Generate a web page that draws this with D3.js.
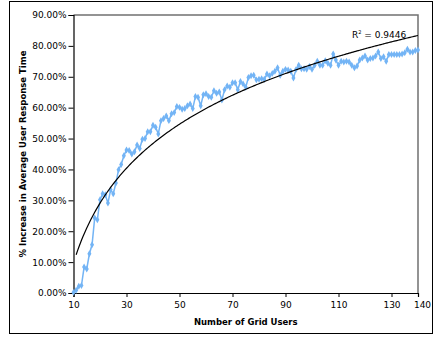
<!DOCTYPE html>
<html>
<head>
<meta charset="utf-8">
<script src="https://cdn.jsdelivr.net/npm/d3@7"></script>
<style>
  body { margin: 0; background: #fff; }
  svg text { font-family: "DejaVu Sans", Verdana, sans-serif; }
</style>
</head>
<body>
<div id="chart"></div>
<script>
// x values: grid users 10..140
let users = d3.range(10, 141);
// % increase in average user response time
let increase = [
    0.2, 0.9, 2.2, 2.4, 8.4, 7.8, 12.7, 15.6, 24.3, 23.7,
    30.2, 32.1, 31.8, 29.1, 33.4, 32.1, 35.6, 39.9, 41.6, 44.4,
    46.3, 46.1, 45.0, 45.7, 47.9, 46.8, 49.8, 50.0, 52.2, 52.2,
    54.3, 53.7, 51.5, 55.8, 56.5, 57.3, 55.8, 58.0, 58.4, 60.4,
    60.1, 59.5, 59.7, 60.6, 61.2, 59.7, 63.6, 63.4, 60.6, 64.2,
    64.5, 63.6, 63.4, 65.5, 64.7, 65.1, 62.5, 65.8, 67.0, 66.6,
    68.1, 68.1, 65.8, 68.5, 67.7, 66.6, 69.8, 70.3, 70.5, 69.0,
    69.2, 69.4, 69.2, 70.9, 70.3, 71.1, 71.8, 72.9, 70.5, 71.8,
    72.4, 72.2, 71.8, 69.6, 72.4, 73.7, 72.6, 72.6, 72.4, 73.3,
    72.4, 73.7, 75.0, 73.7, 73.7, 75.2, 74.4, 73.7, 77.4, 75.4,
    73.7, 75.0, 74.8, 75.0, 74.8, 73.7, 72.9, 73.5, 75.4, 76.1,
    76.7, 75.4, 75.9, 76.1, 76.7, 78.0, 75.9, 76.5, 75.0, 77.2,
    77.2, 77.2, 77.2, 77.2, 77.4, 77.8, 78.9, 78.0, 78.0, 78.5,
    78.7
];
// logarithmic trendline y = a*ln(x) + b
let trendA = 27.9;
let trendB = -54.5;
let trendRange = [11, 140];
let rSquared = "0.9446";

let xTicks = [10, 30, 50, 70, 90, 110, 130, 140];
let yTicks = [0, 10, 20, 30, 40, 50, 60, 70, 80, 90];

let width = 434, height = 337;
let margin = { "top": 15, "bottom": 44, "right": 16, "left": 73.5 };

let svg = d3.select('#chart').append('svg').attr('width', width).attr('height', height);

// outer frame
svg.append('rect')
    .attr('x', 9.5).attr('y', 1.5)
    .attr('width', 423).attr('height', 332)
    .attr('fill', 'none')
    .attr('stroke', '#000')
    .attr('stroke-width', 1);

let xScale = d3.scaleLinear()
    .domain([10, 140])
    .range([margin.left, width - margin.right]);
let yScale = d3.scaleLinear()
    .domain([0, 90])
    .range([height - margin.bottom, margin.top]);

// plot area top / right border
svg.append('path')
    .attr('d', 'M' + xScale(10) + ',' + yScale(90) + 'H' + xScale(140) + 'V' + yScale(0))
    .attr('fill', 'none')
    .attr('stroke', '#707070')
    .attr('stroke-width', 1.5);

let xAxis = d3.axisBottom(xScale)
    .tickValues(xTicks)
    .tickSize(4)
    .tickPadding(5)
    .tickFormat(d3.format('d'));
let yAxis = d3.axisLeft(yScale)
    .tickValues(yTicks)
    .tickSize(5)
    .tickPadding(2)
    .tickFormat(function (d) { return d.toFixed(2) + '%'; });

let gx = svg.append('g')
    .attr('transform', 'translate(0,' + yScale(0) + ')')
    .call(xAxis);
gx.selectAll('text').attr('font-size', 9).attr('fill', '#000').attr('font-family', null);
gx.selectAll('.tick').filter(function (d) { return d === 140; }).select('line').remove();
gx.selectAll('.tick').filter(function (d) { return d === 140; }).select('text').attr('dx', 4);

let gy = svg.append('g')
    .attr('transform', 'translate(' + margin.left + ',0)')
    .call(yAxis);
gy.selectAll('text').attr('font-size', 9).attr('fill', '#000').attr('font-family', null);

svg.selectAll('.domain').attr('stroke', '#000').attr('stroke-width', 1.2);

// series
let points = users.map(function (u, i) { return [u, increase[i]]; });
let line = d3.line()
    .x(function (d) { return xScale(d[0]); })
    .y(function (d) { return yScale(d[1]); });

svg.append('path')
    .attr('d', line(points))
    .attr('fill', 'none')
    .attr('stroke', '#73b4f5')
    .attr('stroke-width', 1.5);

svg.append('g')
    .selectAll('path')
    .data(points)
    .enter()
    .append('path')
    .attr('d', d3.symbol().type(d3.symbolDiamond).size(14))
    .attr('transform', function (d) { return 'translate(' + xScale(d[0]) + ',' + yScale(d[1]) + ')'; })
    .attr('fill', '#73b4f5');

// trendline
let trendXs = d3.range(trendRange[0], trendRange[1] + 0.5, 0.5);
svg.append('path')
    .attr('d', line(trendXs.map(function (x) { return [x, trendA * Math.log(x) + trendB]; })))
    .attr('fill', 'none')
    .attr('stroke', '#000')
    .attr('stroke-width', 1.2);

let rText = svg.append('text')
    .attr('x', 352).attr('y', 38)
    .attr('font-size', 9)
    .attr('fill', '#000');
rText.append('tspan').text('R');
rText.append('tspan').attr('font-size', 5).attr('dy', -4).text('2');
rText.append('tspan').attr('dy', 4).text(' = ' + rSquared);

// axis titles
svg.append('text')
    .attr('x', (xScale(10) + xScale(140)) / 2)
    .attr('y', 325)
    .attr('text-anchor', 'middle')
    .attr('font-size', 8.5)
    .attr('font-weight', 'bold')
    .text('Number of Grid Users');

svg.append('text')
    .attr('transform', 'translate(26,' + (yScale(0) + yScale(90)) / 2 + ') rotate(-90)')
    .attr('text-anchor', 'middle')
    .attr('font-size', 8.5)
    .attr('font-weight', 'bold')
    .text('% Increase in Average User Response Time');
</script>
</body>
</html>
